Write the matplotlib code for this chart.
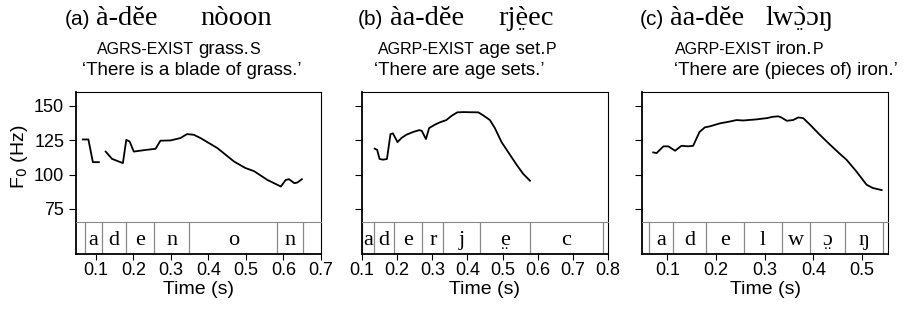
import matplotlib
matplotlib.use("Agg")
import matplotlib.pyplot as plt
from matplotlib.transforms import offset_copy

W, H = 911, 314

# ---- data ----
# panel (a)  à-dĕe nòoon
time_a1 = [0.065, 0.080, 0.092, 0.108]
f0_a1 = [125.5, 125.5, 109.0, 109.0]
time_a2 = [0.126, 0.143, 0.172, 0.181, 0.190, 0.201, 0.236, 0.259, 0.272, 0.299,
           0.325, 0.343, 0.361, 0.379, 0.424, 0.468, 0.498, 0.522, 0.557, 0.593,
           0.606, 0.615, 0.629, 0.637, 0.649]
f0_a2 = [116.7, 111.4, 108.3, 125.2, 124.0, 116.7, 118.0, 118.7, 124.6, 124.8,
         126.5, 129.4, 128.9, 126.5, 119.2, 109.5, 104.8, 102.4, 96.1, 91.3,
         96.1, 96.6, 93.7, 94.2, 96.6]
bounds_a = [0.072, 0.116, 0.181, 0.256, 0.349, 0.583, 0.652]
segs_a = ["a", "d", "e", "n", "o", "n"]

# panel (b)  àa-dĕe rjè̤ec
time_b = [0.136, 0.143, 0.150, 0.160, 0.171, 0.181, 0.188, 0.201, 0.212, 0.226,
          0.245, 0.263, 0.270, 0.282, 0.291, 0.307, 0.321, 0.340, 0.355, 0.371,
          0.388, 0.431, 0.445, 0.464, 0.478, 0.497, 0.516, 0.540, 0.559, 0.578]
f0_b = [118.8, 118.0, 111.3, 110.8, 111.3, 129.4, 129.9, 123.6, 126.5, 128.9,
        130.9, 132.3, 131.8, 125.8, 133.8, 136.2, 137.9, 139.6, 142.7, 145.2,
        145.4, 145.2, 143.0, 139.6, 133.8, 123.6, 116.3, 107.1, 100.4, 95.5]
bounds_b = [0.100, 0.134, 0.190, 0.272, 0.331, 0.436, 0.578, 0.785]
segs_b = ["a", "d", "e", "r", "j", "e", "c"]
breathy_b = [False, False, False, False, False, True, False]

# panel (c)  àa-dĕe lwɔ̤̀ɔŋ
time_c = [0.071, 0.078, 0.092, 0.102, 0.116, 0.129, 0.143, 0.153, 0.166, 0.177,
          0.187, 0.208, 0.229, 0.242, 0.256, 0.283, 0.304, 0.317, 0.328, 0.334,
          0.345, 0.358, 0.369, 0.379, 0.393, 0.413, 0.434, 0.454, 0.468, 0.488,
          0.509, 0.522, 0.540]
f0_c = [116.1, 115.6, 120.5, 120.5, 117.3, 120.9, 120.5, 120.9, 130.9, 134.3,
        135.0, 137.2, 138.6, 139.6, 139.3, 140.1, 141.0, 142.0, 142.3, 141.5,
        139.1, 139.6, 141.5, 141.0, 136.2, 128.9, 121.7, 115.1, 110.7, 102.3,
        92.6, 90.2, 88.7]
bounds_c = [0.063, 0.111, 0.179, 0.258, 0.335, 0.393, 0.465, 0.543]
segs_c = ["a", "d", "e", "l", "w", "\u0254", "\u014b"]
breathy_c = [False, False, False, False, False, True, False]

yticks = [75, 100, 125, 150]
xlims = [(0.047, 0.70), (0.10, 0.80), (0.048, 0.553)]
xticks = [[0.1, 0.2, 0.3, 0.4, 0.5, 0.6, 0.7],
          [0.1, 0.2, 0.3, 0.4, 0.5, 0.6, 0.7, 0.8],
          [0.1, 0.2, 0.3, 0.4, 0.5]]

letters = ["(a)", "(b)", "(c)"]
words1 = ["\u00e0-d\u0115e", "\u00e0a-d\u0115e", "\u00e0a-d\u0115e"]
# second word written without combining marks; the marks are drawn on top
words2 = ["n\u00f2oon", "rj\u00e8ec", "lw\u0254\u0254\u014b"]
dots_at = [None, 2, 2]        # letter with diaeresis below
grave_at = [None, None, 2]    # letter with extra grave accent
gloss_caps = ["AGRS-EXIST", "AGRP-EXIST", "AGRP-EXIST"]
gloss_words = ["grass.", "age set.", "iron."]
gloss_num = ["S", "P", "P"]
translations = ["\u2018There is a blade of grass.\u2019",
                "\u2018There are age sets.\u2019",
                "\u2018There are (pieces of) iron.\u2019"]

plt.rcParams['font.family'] = ['Liberation Sans', 'DejaVu Sans']
serif = ['Liberation Serif', 'DejaVu Serif']

fig = plt.figure(figsize=(W / 100, H / 100), dpi=100)
renderer = fig.canvas.get_renderer()


def px_axes(left, top, right, bottom):
    return fig.add_axes([left / W, 1 - bottom / H, (right - left) / W, (bottom - top) / H])


def text_width(s, size, family):
    t = fig.text(0, 0, s, fontsize=size, family=family)
    w = t.get_window_extent(renderer).width
    t.remove()
    return w


panels = [(76, 321), (362, 608), (642, 888)]
curves = [[(time_a1, f0_a1), (time_a2, f0_a2)], [(time_b, f0_b)], [(time_c, f0_c)]]
tiers = [(bounds_a, segs_a, [False] * 6), (bounds_b, segs_b, breathy_b),
         (bounds_c, segs_c, breathy_c)]
# title anchor positions (pixels): letter, word1, word2, gloss, translation
title_pos = [(65, 96, 200, 97, 82), (358, 390, 498, 378, 374), (640, 670, 765, 675, 674)]
big = 20.5

for i, (l, r) in enumerate(panels):
    ax = px_axes(l, 92, r, 222)
    tx = px_axes(l, 222, r, 254)
    for t, f in curves[i]:
        ax.plot(t, f, color='black', lw=1.3)
    ax.set_xlim(*xlims[i])
    ax.set_ylim(65.5, 160)
    ax.set_yticks(yticks)
    ax.set_xticks([])
    ax.spines['bottom'].set_visible(False)
    ax.spines['left'].set_linewidth(1.3)
    ax.tick_params(axis='y', length=5, width=0.8, labelsize=13)
    if i == 0:
        ax.set_ylabel("F$_0$ (Hz)", fontsize=14, labelpad=3)
    else:
        ax.set_yticklabels([])

    b, segs, breathy = tiers[i]
    tx.set_xlim(*xlims[i])
    tx.set_ylim(0, 1)
    tx.set_yticks([])
    tx.set_xticks(xticks[i])
    tx.set_xticklabels([f"{v:.1f}" for v in xticks[i]])
    tx.tick_params(axis='x', length=4, width=0.8, labelsize=13, pad=2)
    tx.spines['top'].set_color('#888888')
    for s in ['left', 'bottom']:
        tx.spines[s].set_linewidth(1.3)
    for x in b:
        tx.axvline(x, color='#888888', lw=0.9)
    below = offset_copy(tx.transData, fig=fig, y=-4, units='dots')
    for k, lab in enumerate(segs):
        xm = (b[k] + b[k + 1]) / 2
        tx.text(xm, 0.28, lab, ha='center', va='baseline', fontsize=16, family=serif)
        if breathy[k]:
            tx.text(xm, 0.28, "..", ha='center', va='baseline', fontsize=11,
                    family=serif, transform=below, clip_on=False)
    tx.set_xlabel("Time (s)", fontsize=14, labelpad=1)

    p = title_pos[i]
    fig.text(p[0] / W, 1 - 25 / H, letters[i], fontsize=15, va='baseline')
    fig.text(p[1] / W, 1 - 25 / H, words1[i], fontsize=big, va='baseline', family=serif)
    fig.text(p[2] / W, 1 - 25 / H, words2[i], fontsize=big, va='baseline', family=serif)
    if dots_at[i] is not None:
        j = dots_at[i]
        w1 = text_width(words2[i][:j], big, serif) if j else 0
        w2 = text_width(words2[i][:j + 1], big, serif)
        cx = p[2] + (w1 + w2) / 2
        fig.text(cx / W, 1 - 30 / H, "..", fontsize=12, ha='center', va='baseline',
                 family=serif)
    if grave_at[i] is not None:
        j = grave_at[i]
        w1 = text_width(words2[i][:j], big, serif)
        w2 = text_width(words2[i][:j + 1], big, serif)
        cx = p[2] + (w1 + w2) / 2
        fig.text(cx / W, 1 - 25 / H, "`", fontsize=big, ha='center', va='baseline',
                 family=serif)
    g1 = fig.text(p[3] / W, 1 - 54 / H, gloss_caps[i], fontsize=11.5, va='baseline')
    e1 = g1.get_window_extent(renderer)
    g2 = fig.text((e1.x1 + 4) / W, 1 - 54 / H, gloss_words[i], fontsize=13.5, va='baseline')
    e2 = g2.get_window_extent(renderer)
    fig.text(e2.x1 / W, 1 - 54 / H, gloss_num[i], fontsize=11.5, va='baseline')
    fig.text(p[4] / W, 1 - 75 / H, translations[i], fontsize=13.5, va='baseline')

fig.savefig("out.png", dpi=100)
